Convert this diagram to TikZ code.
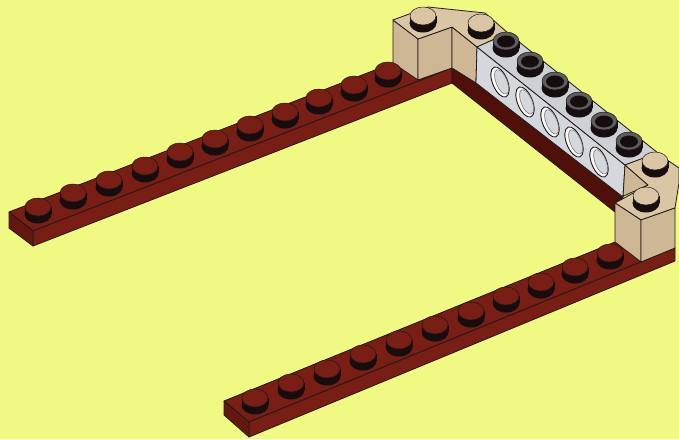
\documentclass[tikz,border=0pt]{standalone}
\usepackage{tikz}

\begin{document}
\begin{tikzpicture}[x=1pt,y=-1pt,line join=round]
      % colours
      \definecolor{paper}{RGB}{240,250,130}
      \definecolor{plate}{RGB}{120,30,20}
      \definecolor{platedark}{RGB}{80,16,10}
      \definecolor{tantop}{RGB}{218,198,165}
      \definecolor{tanside}{RGB}{205,183,148}
      \definecolor{beamtop}{RGB}{205,208,212}
      \definecolor{beamside}{RGB}{212,215,220}
      \definecolor{edge}{RGB}{35,25,25}
      \definecolor{studside}{RGB}{22,14,14}

      % styles
      \tikzstyle{face} = [draw=edge, line width=0.8pt]
      \tikzset{
        pics/stud/.style={code={
          \fill[studside] (0,7) ellipse [x radius=13.5, y radius=9.5];
          \fill[studside] (-13.5,0) rectangle (13.5,7);
          \draw[edge, line width=0.5pt, fill=#1] (0,0) ellipse [x radius=13, y radius=9];
        }},
        pics/holestud/.style={code={
          \fill[studside] (0,7) ellipse [x radius=13.5, y radius=9.5];
          \fill[studside] (-13.5,0) rectangle (13.5,7);
          \draw[edge, line width=0.5pt, fill=beamtop!45!black] (0,0) ellipse [x radius=13, y radius=9];
          \fill[studside] (0,0.5) ellipse [x radius=9, y radius=6];
        }},
        pics/beamhole/.style={code={
          \draw[edge, line width=0.9pt, fill=white!90!beamside, rotate=22] (0,0) ellipse [x radius=7.5, y radius=16];
          \draw[edge!60!white, line width=0.6pt, fill=beamside, rotate=22] (1.5,0.5) ellipse [x radius=5.5, y radius=13];
        }}
      }

      \fill[paper] (0,0) rectangle (679,439);
      \useasboundingbox (0,0) rectangle (679,439);

      % left plate
      \draw[face, fill=plate] (9,212) -- (393,63) -- (452,68) -- (33,231) -- cycle;
      \draw[face, fill=plate] (33,231) -- (452,68) -- (452,83) -- (33,246) -- cycle;
      \draw[face, fill=platedark!50!plate] (9,212) -- (33,231) -- (33,246) -- (9,228) -- cycle;

      % band under the beam
      \draw[face, fill=platedark] (452,68) -- (476,83) -- (623,197) -- (615,212) -- (452,83) -- cycle;

      % right plate
      \draw[face, fill=plate] (224,401) -- (615,242) -- (675,248) -- (249,422) -- cycle;
      \draw[face, fill=plate] (249,422) -- (675,248) -- (675,261) -- (249,437) -- cycle;
      \draw[face, fill=platedark!50!plate] (224,401) -- (249,422) -- (249,437) -- (224,415) -- cycle;

      % far corner brick
      \draw[face, fill=tanside] (393,20) -- (418,39) -- (418,80) -- (393,63) -- cycle;
      \draw[face, fill=tanside] (418,39) -- (452,27) -- (452,68) -- (418,80) -- cycle;
      \draw[face, fill=tanside] (452,27) -- (477,47) -- (476,83) -- (452,68) -- cycle;
      \draw[face, fill=tantop] (393,20) -- (428,7) -- (485,13) -- (508,33) -- (477,47) -- (452,27) -- (418,39) -- cycle;

      % beam with holes
      \draw[face, fill=beamside] (477,47) -- (625,165) -- (623,197) -- (476,83) -- cycle;
      \draw[face, fill=beamtop] (477,47) -- (508,33) -- (658,153) -- (625,165) -- cycle;
      \pic at (500,82) {beamhole};
      \pic at (525,102) {beamhole};
      \pic at (550,122) {beamhole};
      \pic at (574,142) {beamhole};
      \pic at (599,162) {beamhole};

      % near corner brick
      \draw[face, fill=tanside] (625,165) -- (648,185) -- (617,199) -- (623,197) -- cycle;
      \draw[face, fill=tantop] (625,165) -- (657,153) -- (679,168) -- (679,183) -- (675,208) -- (641,220) -- (615,203) -- (648,185) -- cycle;
      \draw[face, fill=tanside] (615,203) -- (641,220) -- (641,262) -- (615,242) -- cycle;
      \draw[face, fill=tanside] (641,220) -- (675,208) -- (675,248) -- (641,262) -- cycle;

      % studs on the left plate
      \pic at (38,207) {stud=plate};
      \pic at (73,193) {stud=plate};
      \pic at (109,180) {stud=plate};
      \pic at (145,166) {stud=plate};
      \pic at (180,152) {stud=plate};
      \pic at (215,139) {stud=plate};
      \pic at (250,125) {stud=plate};
      \pic at (285,112) {stud=plate};
      \pic at (319,98) {stud=plate};
      \pic at (354,85) {stud=plate};
      \pic at (388,71) {stud=plate};

      % studs on the right plate
      \pic at (255,398) {stud=plate};
      \pic at (291,383) {stud=plate};
      \pic at (327,369) {stud=plate};
      \pic at (363,354) {stud=plate};
      \pic at (399,340) {stud=plate};
      \pic at (435,325) {stud=plate};
      \pic at (471,311) {stud=plate};
      \pic at (506,296) {stud=plate};
      \pic at (541,282) {stud=plate};
      \pic at (575,267) {stud=plate};
      \pic at (610,253) {stud=plate};

      % studs on the beam
      \pic at (506,41) {holestud};
      \pic at (530,61) {holestud};
      \pic at (555,81) {holestud};
      \pic at (579,101) {holestud};
      \pic at (604,121) {holestud};
      \pic at (629,141) {holestud};

      % studs on the bricks
      \pic at (423,16) {stud=tantop};
      \pic at (481,23) {stud=tantop};
      \pic at (655,161) {stud=tantop};
      \pic at (646,196) {stud=tantop};
\end{tikzpicture}
\end{document}
